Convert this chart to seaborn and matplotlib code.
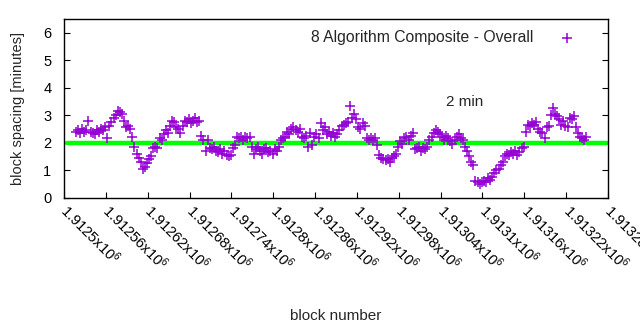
import numpy as np
import pandas as pd
import matplotlib
matplotlib.use("Agg")
import matplotlib.pyplot as plt
import seaborn as sns

# ---- data ----
start_block = 1912517
block_step = 3
spacing_minutes = [
    2.4, 2.45, 2.35, 2.5, 2.4, 2.45, 2.8, 2.4, 2.35, 2.3,
    2.45, 2.4, 2.5, 2.45, 2.55, 2.15, 2.6, 2.75, 2.9, 3.0,
    3.15, 3.1, 3.05, 2.8, 2.55, 2.6, 2.5, 2.2, 1.85, 1.6,
    1.45, 1.3, 1.05, 1.1, 1.25, 1.4, 1.5, 1.8, 1.85, 1.8,
    2.15, 2.1, 2.3, 2.45, 2.35, 2.6, 2.8, 2.75, 2.55, 2.5,
    2.35, 2.6, 2.8, 2.75, 2.85, 2.7, 2.8, 2.9, 2.75, 2.8,
    2.25, 2.1, 1.7, 2.1, 1.8, 1.75, 1.85, 1.7, 1.65, 1.75,
    1.6, 1.7, 1.55, 1.5, 1.55, 1.8, 1.9, 2.2, 2.15, 2.2,
    2.1, 2.2, 2.15, 2.2, 1.85, 1.6, 1.75, 1.85, 1.7, 1.6,
    1.75, 1.8, 1.65, 1.7, 1.6, 1.75, 1.7, 1.85, 2.1, 2.15,
    2.2, 2.4, 2.3, 2.5, 2.55, 2.45, 2.4, 2.5, 2.2, 2.15,
    2.25, 1.85, 2.35, 1.9, 2.2, 2.3, 2.15, 2.7, 2.45, 2.55,
    2.3, 2.4, 2.25, 2.35, 2.2, 2.3, 2.45, 2.6, 2.65, 2.7,
    2.75, 3.35, 2.9, 3.05, 2.85, 2.55, 2.5, 2.7, 2.6, 2.15,
    2.1, 2.15, 2.1, 2.15, 1.9, 1.55, 1.45, 1.4, 1.35, 1.4,
    1.3, 1.45, 1.5, 1.6, 1.85, 2.05, 1.95, 2.15, 2.2, 2.1,
    2.25, 2.35, 1.75, 1.8, 1.85, 1.7, 1.8, 1.75, 1.85, 2.1,
    2.2, 2.35, 2.45, 2.4, 2.3, 2.2, 2.1, 2.25, 2.15, 2.05,
    1.95, 2.1, 2.2, 2.3, 2.15, 2.1, 1.85, 1.7, 1.5, 1.3,
    1.2, 0.6, 0.55, 0.5, 0.55, 0.6, 0.55, 0.7, 0.65, 0.75,
    0.9, 1.0, 1.05, 1.2, 1.3, 1.5, 1.6, 1.55, 1.65, 1.6,
    1.7, 1.55, 1.65, 1.8, 1.85, 2.4, 2.65, 2.6, 2.7, 2.65,
    2.75, 2.5, 2.4, 2.35, 2.15, 2.55, 2.6, 3.0, 3.25, 3.05,
    2.95, 2.85, 2.65, 2.8, 2.6, 2.55, 2.9, 2.85, 2.95, 2.55,
    2.35, 2.2, 2.15, 2.1, 2.2,
]
target_minutes = 2
series_label = "8 Algorithm Composite - Overall"
note_text = "2 min"
note_block = 1913048
note_value = 3.47
xtick_values = [1912500 + 60 * k for k in range(14)]
xtick_labels = ["1.9125", "1.91256", "1.91262", "1.91268", "1.91274", "1.9128",
                "1.91286", "1.91292", "1.91298", "1.91304", "1.9131", "1.91316",
                "1.91322", "1.91328"]
ytick_values = [0, 1, 2, 3, 4, 5, 6]

blocks = start_block + block_step * np.arange(len(spacing_minutes))
df = pd.DataFrame({"block": blocks, "minutes": spacing_minutes})

# ---- style ----
sns.set_style("ticks")
plt.rcParams["font.family"] = ["Liberation Sans", "DejaVu Sans"]
plt.rcParams["mathtext.fontset"] = "custom"
plt.rcParams["mathtext.rm"] = "Liberation Sans"
plt.rcParams["mathtext.it"] = "Liberation Sans"

fig = plt.figure(figsize=(6.4, 3.3), dpi=100)
ax = fig.add_axes([0.1, 0.4015, 0.85, 0.5409])

purple = "#9400D3"
ax.axhline(target_minutes, color="#00FF00", lw=3.2, zorder=1,
           xmin=0.006, xmax=0.998)
sns.scatterplot(data=df, x="block", y="minutes", ax=ax, marker="+",
                s=60, color=purple, linewidth=1.1, label=series_label,
                zorder=3)

ax.set_xlim(1912500, 1913280)
ax.set_ylim(0, 6.5)
ax.set_yticks(ytick_values)
ax.set_yticklabels([str(v) for v in ytick_values], fontsize=10.5)
ax.set_xticks(xtick_values)
ax.set_xticklabels([f"{t}x10$^{{6}}$" for t in xtick_labels], fontsize=10.5,
                   rotation=-45, ha="left", va="center", rotation_mode="anchor")
ax.tick_params(axis="both", direction="in", length=4, width=0.8, colors="black",
               labelcolor="black")
ax.tick_params(axis="x", pad=7)
ax.tick_params(axis="y", right=True, pad=9)
for sp in ax.spines.values():
    sp.set_visible(True)
    sp.set_color("black")
    sp.set_linewidth(1.0)

ax.set_xlabel("block number", fontsize=11)
ax.set_ylabel("block spacing [minutes]", fontsize=10.5)
ax.xaxis.set_label_coords(0.5, -0.625)
ax.yaxis.set_label_coords(-0.072, 0.5)

ax.text(note_block, note_value, note_text, fontsize=11, ha="left", va="center")

leg = ax.legend(loc="upper right", frameon=False, markerfirst=False,
                fontsize=11.3, handletextpad=1.17, borderaxespad=0.3,
                bbox_to_anchor=(0.974, 1.0))

fig.savefig("out.png", dpi=100)
